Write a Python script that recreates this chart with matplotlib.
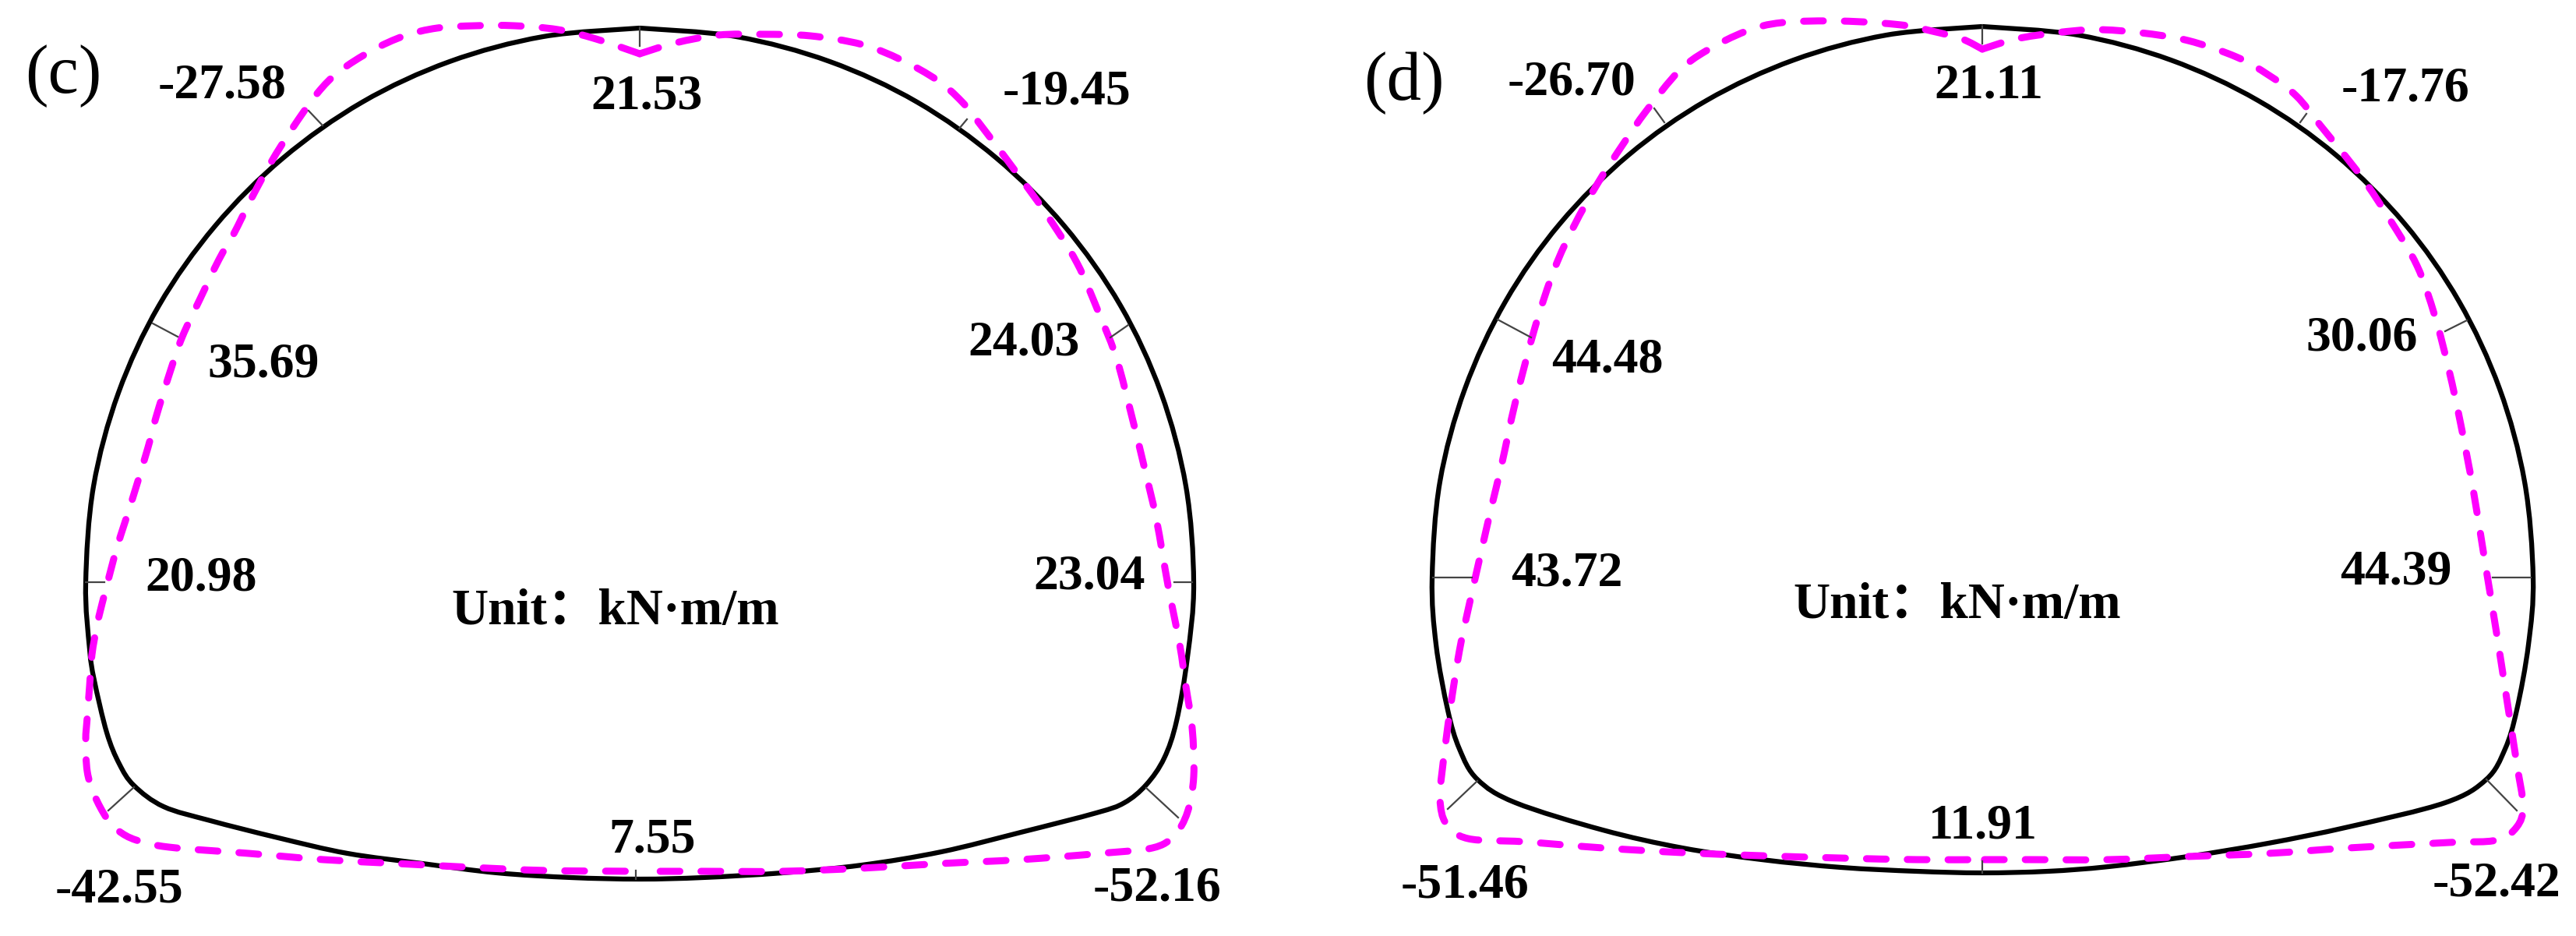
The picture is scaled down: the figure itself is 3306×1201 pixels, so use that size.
#!/usr/bin/env python
import matplotlib
matplotlib.use("Agg")
import matplotlib.pyplot as plt
from matplotlib.path import Path
from matplotlib.patches import PathPatch

plt.rcParams['font.family'] = ['Liberation Serif', 'Noto Sans CJK SC']

# tunnel outline in image pixels
c_lining = [(821,36),(697,47),(577,79),(465,131),(363,203),(276,290),(204,392),(152,504),(120,624),(110,748),
            (115,833),(121,873),(137,940),(153,980),(172,1008),(210,1035),(270,1053),(357,1075),(446,1095),
            (542,1108),(638,1120),(733,1126),(821,1128),(902,1126),(1004,1120),(1106,1110),(1208,1093),
            (1310,1068),(1407,1043),(1443,1030),(1471,1007),(1494,973),(1510,925),(1524,843),(1532,748),
            (1522,624),(1490,504),(1438,392),(1366,290),(1279,203),(1177,131),(1065,79),(945,47),(821,36)]
d_lining = [(2544,34),(2421,45),(2302,77),(2190,129),(2090,199),(2002,287),(1932,387),(1880,499),(1848,618),
            (1838,741),(1843,827),(1858,911),(1873,961),(1896,1000),(1945,1030),(2057,1065),(2159,1088),
            (2261,1103),(2363,1113),(2460,1118),(2544,1120),(2628,1118),(2706,1112),(2808,1099),(2911,1082),
            (3014,1061),(3138,1030),(3191,1000),(3215,961),(3230,911),(3245,827),(3251,741),(3240,618),
            (3208,499),(3156,387),(3086,287),(2998,199),(2898,129),(2786,77),(2667,45),(2544,34)]

# moment curve, left and right of the dip at the crown
c_moment_left = [(821,69),(765,50),(716,38),(660,33),(610,33),(561,36),(519,46),(477,65),(435,92),(407,120),
                 (375,165),(348,208),(323,254),(300,300),(281,333),(257,383),(234,432),(218,478),(200,536),
                 (190,574),(170,640),(150,703),(134,763),(125,800),(118,840),(115,880),(112,920),(110,950),
                 (112,990),(121,1020),(137,1050),(152,1066),(175,1078),(217,1087),(319,1095),(415,1103),
                 (510,1108),(606,1113),(702,1117),(821,1118)]
c_moment_right = [(821,69),(867,55),(922,45),(979,44),(1040,46),(1106,57),(1157,77),(1203,103),(1234,130),
                  (1259,161),(1305,222),(1341,272),(1382,337),(1412,406),(1433,460),(1453,536),(1468,597),
                  (1484,666),(1499,751),(1514,827),(1522,881),(1530,934),(1532,996),(1524,1042),(1507,1072),
                  (1479,1088),(1412,1095),(1310,1103),(1208,1108),(1106,1114),(1004,1118),(902,1118),(821,1118)]
d_moment_left = [(2544,63),(2518,50),(2480,40),(2440,32),(2363,27),(2287,29),(2241,40),(2190,65),(2154,92),
                 (2113,142),(2083,185),(2050,236),(2020,290),(1995,345),(1970,420),(1945,515),(1927,597),
                 (1914,651),(1900,712),(1886,774),(1873,835),(1861,911),(1851,988),(1848,1026),
                 (1856,1057),(1884,1076),(1955,1080),(2057,1088),(2159,1094),(2261,1098),(2363,1101),(2460,1103),
                 (2544,1103)]
d_moment_right = [(2544,63),(2587,50),(2639,42),(2690,38),(2747,42),(2808,52),(2870,73),(2911,96),(2947,123),
                  (2978,161),(3030,226),(3066,280),(3102,341),(3125,406),(3143,475),(3158,544),(3174,628),
                  (3189,720),(3204,812),(3217,896),(3230,980),(3238,1034),(3230,1061),(3204,1078),(3143,1081),
                  (3014,1088),(2911,1095),(2808,1099),(2706,1103),(2603,1103),(2544,1103)]

c_ticks = [((821,36),(821,59)),((414,161),(396,142)),((196,415),(228,432)),((110,747),(134,747)),
           ((172,1010),(139,1040)),((816,1128),(816,1117)),((1241,153),(1231,165)),((1448,417),(1425,433)),
           ((1530,747),(1507,747)),((1471,1011),(1512,1049))]
d_ticks = [((2544,34),(2544,56)),((2136,157),(2123,139)),((1922,410),(1965,433)),((1839,741),(1889,741)),
           ((1896,1002),(1858,1038)),((2544,1120),(2544,1105)),((2952,157),(2960,146)),((3166,411),(3138,425)),
           ((3248,741),(3199,741)),((3191,1000),(3230,1040))]

c_values = ["-27.58", "21.53", "-19.45", "35.69", "24.03", "20.98", "23.04", "-42.55", "7.55", "-52.16"]
c_value_xy = [(285,111),(830,124),(1369,119),(338,469),(1314,440),(258,742),(1398,741),(153,1143),(837,1078),(1485,1141)]
d_values = ["-26.70", "21.11", "-17.76", "44.48", "30.06", "43.72", "44.39", "-51.46", "11.91", "-52.42"]
d_value_xy = [(2017,107),(2552,110),(3087,115),(2063,463),(3031,435),(2011,737),(3075,735),(1880,1136),(2545,1061),(3204,1134)]

unit_text = "Unit：kN·m/m"


def smooth(pts):
    # curve through every read point
    verts = [pts[0]]
    codes = [Path.MOVETO]
    for i in range(len(pts) - 1):
        p0 = pts[max(i - 1, 0)]
        p1 = pts[i]
        p2 = pts[i + 1]
        p3 = pts[min(i + 2, len(pts) - 1)]
        verts += [(p1[0] + (p2[0] - p0[0]) / 6, p1[1] + (p2[1] - p0[1]) / 6),
                  (p2[0] - (p3[0] - p1[0]) / 6, p2[1] - (p3[1] - p1[1]) / 6), p2]
        codes += [Path.CURVE4, Path.CURVE4, Path.CURVE4]
    return Path(verts, codes)


fig = plt.figure(figsize=(33.06, 12.01), dpi=100)
ax = fig.add_axes([0, 0, 1, 1])
ax.set_xlim(0, 3306)
ax.set_ylim(1201, 0)
ax.axis('off')

for t in c_ticks + d_ticks:
    ax.plot([t[0][0], t[1][0]], [t[0][1], t[1][1]], color='#444444', lw=1.6)

for pts in [c_lining, d_lining]:
    ax.add_patch(PathPatch(smooth(pts), fill=False, ec='black', lw=4.5))

for pts in [c_moment_left, c_moment_right, d_moment_left, d_moment_right]:
    ax.add_patch(PathPatch(smooth(pts), fill=False, ec='#ff00ff', lw=6.5, linestyle=(0, (2.8, 3.0)), capstyle='round'))

for s, xy in zip(c_values + d_values, c_value_xy + d_value_xy):
    ax.text(xy[0], xy[1], s, ha='center', va='center', fontsize=46, fontweight='bold', color='black')

ax.text(790, 785, unit_text, ha='center', va='center', fontsize=47, fontweight='bold')
ax.text(2512, 777, unit_text, ha='center', va='center', fontsize=47, fontweight='bold')
ax.text(81, 98, "(c)", ha='center', va='center', fontsize=64)
ax.text(1802, 107, "(d)", ha='center', va='center', fontsize=64)

fig.savefig("out.png", dpi=100)
